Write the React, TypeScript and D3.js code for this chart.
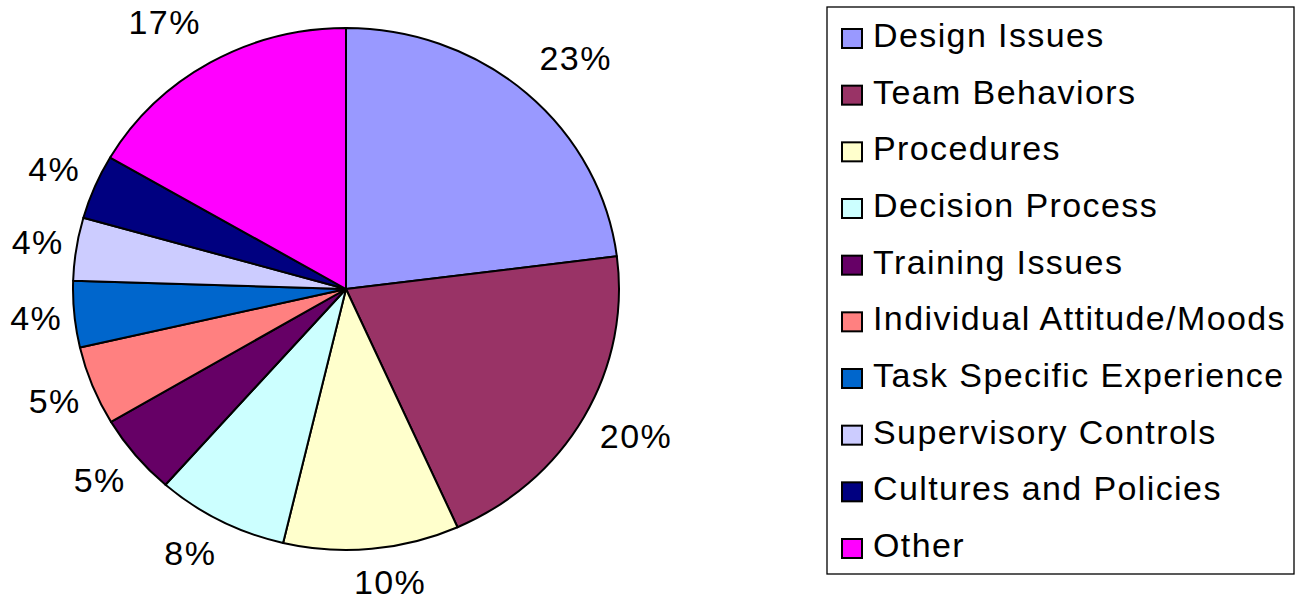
import React from "react";
import * as d3 from "d3";

const categories = [
  "Design Issues",
  "Team Behaviors",
  "Procedures",
  "Decision Process",
  "Training Issues",
  "Individual Attitude/Moods",
  "Task Specific Experience",
  "Supervisory Controls",
  "Cultures and Policies",
  "Other",
];
const values = [23, 20.3, 10.4, 7.8, 5.0, 4.9, 4.1, 3.9, 4.0, 16.6];
const colors = [
  "#9999FF",
  "#993366",
  "#FFFFCC",
  "#CCFFFF",
  "#660066",
  "#FF8080",
  "#0066CC",
  "#CCCCFF",
  "#000080",
  "#FF00FF",
];

const W = 1295;
const H = 601;
const cx = 346;
const cy = 289;
const rx = 273;
const ry = 261;
const FONT = "'Liberation Sans', Arial, Helvetica, sans-serif";
const FS = 34;
const LS = 1.4;

// label placement around the elliptical pie (text box pushed outward)
function labelPos(t: number): [number, number] {
  const s = Math.sin(t);
  const c = Math.cos(t);
  const ac = Math.abs(c);
  const extra =
    s >= 0 ? 12 * ac + 30 * s * ac : -(c > 0 ? 35 * c * c : 16 * c * c);
  const x = cx + rx * 1.14 * s + extra;
  const y =
    cy - ry * 1.15 * c - 8 * Math.max(c, 0) + 6 * Math.min(c, 0) * Math.pow(ac, 7);
  return [x, y];
}

export default function App() {
  const total = d3.sum(values);
  const pie = d3
    .pie<number>()
    .sort(null)
    .value((d) => d)
    .startAngle(0)
    .endAngle(2 * Math.PI);
  const arcs = pie(values);
  const arc = d3.arc<d3.PieArcDatum<number>>().innerRadius(0).outerRadius(rx);
  const fmt = (v: number) => d3.format(".0f")((v / total) * 100) + "%";

  const legendX = 827;
  const legendY = 7;
  const legendW = 467;
  const legendH = 567;
  const rowY = d3
    .scaleLinear()
    .domain([0, categories.length - 1])
    .range([47, 557]);

  return (
    <svg
      width={W}
      height={H}
      style={{ position: "absolute", left: 0, top: 0, background: "#fff" }}
    >
      <g transform={`translate(${cx},${cy}) scale(1,${ry / rx})`}>
        {arcs.map((a, i) => (
          <path
            key={i}
            d={arc(a) || ""}
            fill={colors[i]}
            stroke="#000"
            strokeWidth={2}
            strokeLinejoin="round"
            vectorEffect="non-scaling-stroke"
          />
        ))}
      </g>
      {arcs.map((a, i) => {
        const [x, y] = labelPos((a.startAngle + a.endAngle) / 2);
        return (
          <text
            key={i}
            x={x}
            y={y}
            dy="0.36em"
            textAnchor="middle"
            fontFamily={FONT}
            fontSize={FS}
            letterSpacing={LS}
            fill="#000"
          >
            {fmt(values[i])}
          </text>
        );
      })}
      <rect
        x={legendX}
        y={legendY}
        width={legendW}
        height={legendH}
        fill="#fff"
        stroke="#000"
        strokeWidth={1.3}
      />
      {categories.map((name, i) => {
        const by = rowY(i);
        return (
          <g key={name}>
            <rect
              x={842}
              y={by - 18}
              width={20}
              height={19}
              fill={colors[i]}
              stroke="#000"
              strokeWidth={2}
            />
            <text
              x={873}
              y={by}
              fontFamily={FONT}
              fontSize={FS}
              letterSpacing={LS}
              fill="#000"
            >
              {name}
            </text>
          </g>
        );
      })}
    </svg>
  );
}
